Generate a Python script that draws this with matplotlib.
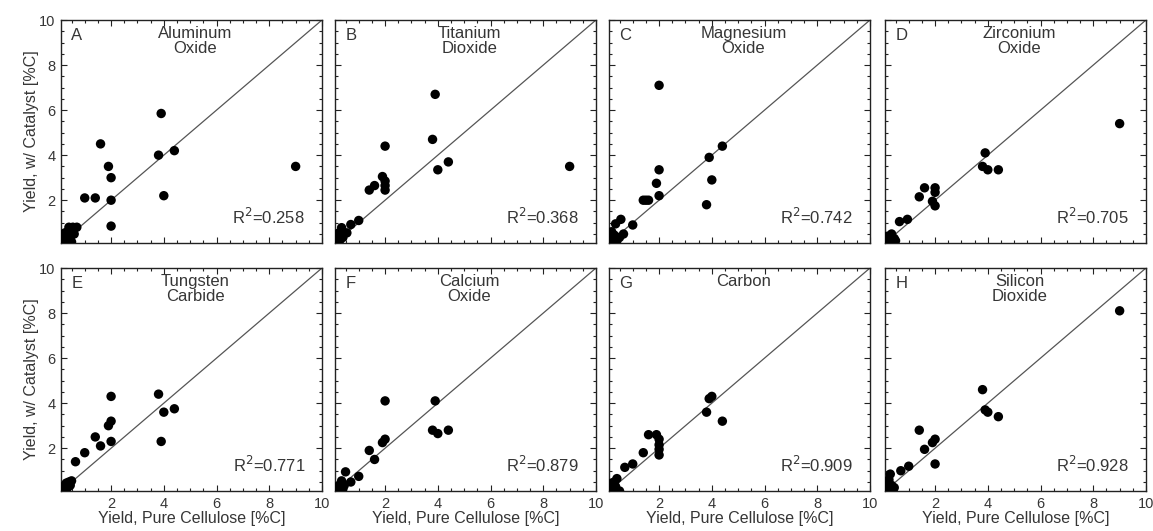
import matplotlib
matplotlib.use("Agg")
import matplotlib.pyplot as plt
from matplotlib.ticker import MultipleLocator

plt.rcParams['font.family'] = ['Liberation Sans', 'DejaVu Sans']

TEXT = '#363636'

letters = ['A', 'B', 'C', 'D', 'E', 'F', 'G', 'H']
catalysts = ['Aluminum\nOxide', 'Titanium\nDioxide', 'Magnesium\nOxide', 'Zirconium\nOxide',
             'Tungsten\nCarbide', 'Calcium\nOxide', 'Carbon', 'Silicon\nDioxide']
r2_values = [0.258, 0.368, 0.742, 0.705, 0.771, 0.879, 0.909, 0.928]

# Yield with pure cellulose (x) vs. yield with catalyst (y), in %C
x_alox = [9.0, 3.9, 3.8, 4.4, 4.0, 1.6, 1.9, 2.0, 2.0, 2.0, 1.0, 1.4,
          0.7, 0.55, 0.4, 0.25, 0.2, 0.2, 0.3, 0.5, 0.35, 0.6, 0.45]
y_alox = [3.5, 5.85, 4.0, 4.2, 2.2, 4.5, 3.5, 3.0, 2.0, 0.85, 2.1, 2.1,
          0.8, 0.8, 0.8, 0.55, 0.4, 0.2, 0.3, 0.15, 0.6, 0.5, 0.35]

x_tio2 = [9.0, 3.9, 3.8, 4.0, 4.4, 2.0, 1.9, 2.0, 2.0, 2.0, 1.4, 1.6,
          1.0, 0.7, 0.35, 0.25, 0.2, 0.45, 0.55, 0.3, 0.4, 0.2]
y_tio2 = [3.5, 6.7, 4.7, 3.35, 3.7, 4.4, 3.05, 2.85, 2.65, 2.45, 2.45, 2.65,
          1.1, 0.92, 0.78, 0.55, 0.3, 0.55, 0.55, 0.25, 0.35, 0.15]

x_mgo = [2.0, 2.0, 1.9, 2.0, 1.4, 1.5, 1.6, 3.9, 4.4, 4.0, 3.8, 1.0,
         0.55, 0.35, 0.65, 0.25, 0.4, 0.2, 0.3, 0.5, 0.2]
y_mgo = [7.1, 3.35, 2.75, 2.2, 2.0, 2.0, 2.0, 3.9, 4.4, 2.9, 1.8, 0.9,
         1.15, 0.95, 0.5, 0.3, 0.2, 0.6, 0.45, 0.35, 0.15]

x_zro2 = [9.0, 3.9, 3.8, 4.0, 4.4, 1.6, 1.4, 2.0, 2.0, 1.9, 2.0, 0.95,
          0.65, 0.35, 0.25, 0.2, 0.45, 0.5, 0.3, 0.2, 0.4]
y_zro2 = [5.4, 4.1, 3.5, 3.35, 3.35, 2.55, 2.15, 2.55, 2.35, 1.95, 1.75, 1.15,
          1.05, 0.5, 0.35, 0.2, 0.3, 0.2, 0.15, 0.4, 0.25]

x_wc = [3.8, 4.0, 4.4, 3.9, 2.0, 2.0, 1.9, 2.0, 1.4, 1.6, 1.0, 0.65,
        0.5, 0.4, 0.3, 0.25, 0.2, 0.35, 0.45, 0.2]
y_wc = [4.4, 3.6, 3.75, 2.3, 4.3, 3.2, 3.0, 2.3, 2.5, 2.1, 1.8, 1.4,
        0.55, 0.5, 0.45, 0.35, 0.2, 0.25, 0.35, 0.1]

x_cao = [2.0, 3.9, 3.8, 4.0, 4.4, 2.0, 1.9, 1.4, 1.6, 1.0, 0.5, 0.7,
         0.35, 0.25, 0.2, 0.4, 0.3, 0.45]
y_cao = [4.1, 4.1, 2.8, 2.65, 2.8, 2.4, 2.25, 1.9, 1.5, 0.75, 0.95, 0.5,
         0.55, 0.35, 0.25, 0.2, 0.15, 0.35]

x_c = [4.0, 3.9, 3.8, 4.4, 1.6, 1.9, 2.0, 2.0, 2.0, 2.0, 1.4, 1.0,
       0.7, 0.4, 0.3, 0.25, 0.2, 0.5, 0.35, 0.2]
y_c = [4.3, 4.2, 3.6, 3.2, 2.6, 2.6, 2.4, 2.15, 1.95, 1.7, 1.8, 1.3,
       1.15, 0.65, 0.5, 0.35, 0.2, 0.1, 0.3, 0.45]

x_sio2 = [9.0, 3.8, 3.9, 4.0, 4.4, 1.4, 2.0, 1.9, 1.6, 2.0, 1.0, 0.7,
          0.3, 0.25, 0.2, 0.35, 0.45, 0.4, 0.3, 0.2]
y_sio2 = [8.1, 4.6, 3.7, 3.6, 3.4, 2.8, 2.4, 2.25, 1.95, 1.3, 1.2, 1.0,
          0.85, 0.6, 0.4, 0.35, 0.25, 0.15, 0.2, 0.15]

series_x = [x_alox, x_tio2, x_mgo, x_zro2, x_wc, x_cao, x_c, x_sio2]
series_y = [y_alox, y_tio2, y_mgo, y_zro2, y_wc, y_cao, y_c, y_sio2]

major_ticks = [2, 4, 6, 8, 10]
axis_min, axis_max = 0.1, 10

fig = plt.figure(figsize=(11.53, 5.31), dpi=100)

col_left = [61, 335, 609, 885]
row_top = [20, 268]
ax_w, ax_h = 261, 223
W, H = 1153, 531

for i in range(8):
    r, c = divmod(i, 4)
    left = col_left[c] / W
    bottom = 1 - (row_top[r] + ax_h) / H
    ax = fig.add_axes([left, bottom, ax_w / W, ax_h / H])

    ax.plot([axis_min, axis_max], [axis_min, axis_max], color='#555555', lw=0.9, zorder=1)
    ax.scatter(series_x[i], series_y[i], s=46, color='black', edgecolors='none', zorder=3)

    ax.set_xlim(axis_min, axis_max)
    ax.set_ylim(axis_min, axis_max)
    ax.set_xticks(major_ticks)
    ax.set_yticks(major_ticks)
    ax.xaxis.set_minor_locator(MultipleLocator(0.5))
    ax.yaxis.set_minor_locator(MultipleLocator(0.5))
    ax.tick_params(which='both', direction='in', top=True, right=True,
                   colors='#222222', labelcolor=TEXT, labelsize=10.5, width=0.8)
    ax.tick_params(which='major', length=4, pad=4)
    ax.tick_params(which='minor', length=2.5)
    for sp in ax.spines.values():
        sp.set_color('#222222')
        sp.set_linewidth(1.0)

    if r == 0:
        ax.tick_params(labelbottom=False)
    else:
        ax.set_xlabel('Yield, Pure Cellulose [%C]', fontsize=11.5, color=TEXT, labelpad=0)
    if c == 0:
        ax.set_ylabel('Yield, w/ Catalyst [%C]', fontsize=11.5, color=TEXT, labelpad=0)
    else:
        ax.tick_params(labelleft=False)

    ax.text(0.04, 0.965, letters[i], transform=ax.transAxes, ha='left', va='top',
            fontsize=12, color=TEXT)
    ax.text(0.515, 0.975, catalysts[i], transform=ax.transAxes, ha='center', va='top',
            fontsize=12, color=TEXT, linespacing=1.05)
    ax.text(0.935, 0.07, f'R$^2$={r2_values[i]:.3f}', transform=ax.transAxes,
            ha='right', va='bottom', fontsize=12, color=TEXT)

fig.savefig('out.png', dpi=100)
